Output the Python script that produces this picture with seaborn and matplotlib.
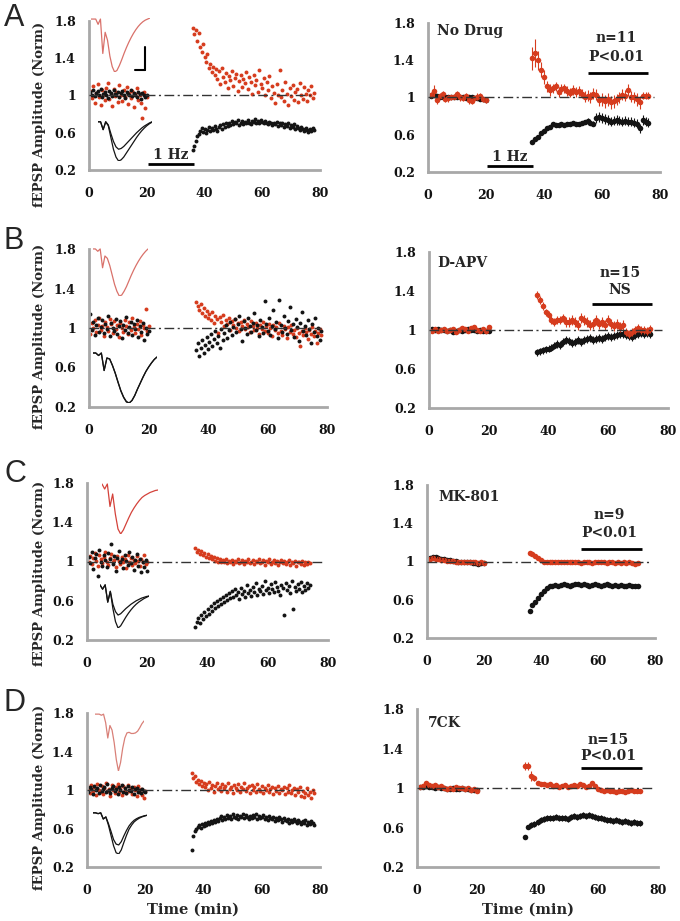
import numpy as np
import matplotlib
matplotlib.use("Agg")
import matplotlib.pyplot as plt
import seaborn as sns

sns.set_style("white")
plt.rcParams['font.family'] = ['DejaVu Serif']
plt.rcParams['font.weight'] = 'bold'

RED = "#d63c1e"
BLK = "#141414"
GRAY = "#a8a8a8"

# ---------------- left panels: individual experiments (sampled every 0.5 min) ----------------
a_red_base = [1.05,0.97,1.10,0.92,1.03,1.12,0.98,0.90,1.06,1.01,0.95,1.08,1.13,0.96,1.02,0.89,1.07,0.99,1.04,0.93,
              1.11,1.00,0.94,1.06,0.98,1.09,0.91,1.03,0.97,1.05,0.88,1.02,1.08,0.95,1.00,0.92,0.76,1.04,0.87,0.98]
a_blk_base = [1.04,1.01,1.06,0.99,1.03,1.05,1.00,1.07,0.98,1.02,1.04,1.01,0.97,1.05,1.03,0.99,1.06,1.02,1.00,1.04,
              0.98,1.03,1.05,1.01,0.97,1.04,1.02,1.00,1.06,0.99,1.03,1.01,0.98,1.04,1.02,0.96,1.03,1.00,0.98,1.01]
a_red_post = [1.73,1.66,1.70,1.58,1.67,1.52,1.47,1.55,1.41,1.36,1.45,1.30,1.34,1.25,1.31,1.22,1.28,1.18,1.26,1.12,
              1.30,1.20,1.15,1.24,1.08,1.21,1.17,1.26,1.10,1.19,1.23,1.05,1.16,1.22,1.09,1.18,1.13,1.25,1.07,1.20,
              1.14,1.02,1.22,1.11,1.17,1.04,1.27,1.12,1.08,1.19,1.00,1.14,1.06,1.21,0.97,1.10,1.03,0.92,1.12,1.00,
              1.27,0.98,1.06,0.94,1.15,1.02,0.90,1.08,0.99,1.11,0.95,1.04,1.07,0.93,1.13,1.01,0.96,1.09,1.02,0.94,
              1.06,1.00,1.10,0.97,1.03]
a_blk_post = [0.42,0.46,0.51,0.56,0.59,0.62,0.65,0.61,0.64,0.60,0.63,0.66,0.62,0.65,0.63,0.67,0.64,0.62,0.66,0.68,
              0.64,0.69,0.66,0.70,0.67,0.71,0.68,0.73,0.69,0.72,0.70,0.74,0.68,0.71,0.73,0.69,0.72,0.70,0.74,0.71,
              0.69,0.73,0.72,0.75,0.70,0.73,0.71,0.74,0.72,0.70,0.73,0.71,0.69,0.72,0.70,0.68,0.71,0.69,0.72,0.67,
              0.70,0.68,0.71,0.66,0.69,0.67,0.70,0.65,0.68,0.66,0.69,0.64,0.67,0.65,0.63,0.66,0.64,0.62,0.65,0.63,
              0.61,0.64,0.62,0.65,0.63]

b_red_base = [0.94,1.05,1.00,1.08,0.96,1.03,1.10,0.98,1.02,0.92,1.06,1.01,0.97,1.09,1.04,0.95,1.07,0.99,1.03,0.91,
              1.05,1.00,0.96,1.08,1.02,0.94,1.06,0.98,1.10,1.01,0.95,1.04,0.99,1.07,0.93,1.03,1.00,1.19,0.97,1.02]
b_blk_base = [1.14,0.98,1.06,0.93,1.03,1.10,0.96,1.01,1.08,0.95,1.04,0.99,1.12,0.92,1.05,1.00,0.97,1.09,0.94,1.02,
              1.07,0.90,1.03,0.98,1.11,0.95,1.01,1.06,0.93,1.04,0.99,1.08,0.91,1.02,0.96,1.05,0.88,1.00,0.94,0.97]
b_red_post = [1.26,1.22,1.18,1.24,1.15,1.20,1.12,1.17,1.10,1.14,1.08,1.16,1.05,1.12,1.09,0.95,1.11,1.06,1.13,1.02,
              1.08,1.04,1.10,0.98,1.07,1.03,1.09,1.00,1.05,0.97,1.06,1.02,1.08,0.99,1.04,1.01,0.96,1.07,1.02,0.98,
              1.05,1.00,0.94,1.03,0.99,1.06,0.97,1.02,0.95,1.04,1.00,0.92,1.03,0.98,1.01,0.95,1.05,0.97,0.93,1.02,
              0.99,0.90,1.01,0.96,1.03,0.94,0.98,0.91,1.00,0.95,0.82,0.97,0.93,1.00,0.96,0.89,0.98,0.94,1.01,0.92,
              0.97,0.85,0.95,0.99,0.93]
b_blk_post = [0.78,0.85,0.72,0.80,0.88,0.75,0.83,0.91,0.79,0.86,0.94,0.82,0.89,0.97,0.85,0.92,0.80,0.99,0.88,0.95,
              1.03,0.90,0.98,1.06,0.93,1.01,1.09,0.96,1.04,1.12,0.99,0.87,1.07,1.00,0.94,1.10,1.02,0.96,1.05,1.15,
              0.98,1.03,0.92,1.08,1.01,0.95,1.27,1.04,0.97,1.10,0.93,1.02,1.18,0.99,1.06,0.90,1.28,1.03,0.96,1.12,
              1.00,0.94,1.07,1.21,0.98,1.04,0.91,1.09,1.01,0.87,1.05,1.16,0.97,1.02,0.93,1.08,0.99,0.85,1.04,0.96,
              1.10,0.92,1.00,0.88,0.97]

c_red_base = [1.00,1.06,0.97,1.04,1.09,1.01,0.95,1.07,1.03,0.98,1.05,1.10,1.00,0.96,1.04,1.08,0.99,1.02,0.94,1.06,
              1.01,0.97,1.05,0.99,1.03,0.93,1.07,1.00,1.04,0.96,1.02,0.98,1.06,1.01,0.95,1.03,0.99,1.07,0.97,1.00]
c_blk_base = [1.05,0.98,1.10,0.92,1.04,1.08,0.85,1.12,1.00,0.95,1.07,1.02,0.94,1.09,1.03,1.18,0.97,1.06,0.90,1.04,
              1.11,0.99,1.03,0.93,1.07,1.01,0.96,1.10,0.98,1.05,0.91,1.02,1.08,0.95,1.03,0.89,1.00,0.94,1.02,0.90]
c_red_post = [1.14,1.10,1.12,1.08,1.11,1.07,1.09,1.05,1.08,1.04,1.06,1.03,1.05,1.01,1.04,1.00,1.03,0.99,1.02,1.00,
              1.03,0.98,1.01,0.99,1.02,0.97,1.01,0.99,1.03,0.98,1.00,1.02,0.97,1.01,0.99,1.03,0.98,1.00,1.02,0.97,
              1.01,0.99,1.03,0.98,1.00,1.02,0.96,1.01,0.99,1.03,0.97,1.00,1.02,0.98,1.01,0.96,1.00,1.02,0.98,1.01,
              0.97,0.99,1.02,0.96,1.00,0.98,1.01,0.95,0.99,1.00,0.97,1.01,0.96,0.99,0.97,1.00,0.98]
c_blk_post = [0.33,0.38,0.42,0.37,0.45,0.41,0.49,0.44,0.52,0.47,0.55,0.50,0.58,0.53,0.60,0.55,0.62,0.57,0.64,0.59,
              0.66,0.61,0.68,0.63,0.70,0.64,0.72,0.66,0.69,0.62,0.73,0.67,0.70,0.64,0.76,0.68,0.71,0.65,0.74,0.69,
              0.78,0.66,0.72,0.70,0.75,0.67,0.80,0.71,0.73,0.68,0.77,0.72,0.69,0.79,0.74,0.70,0.66,0.76,0.73,0.45,
              0.78,0.71,0.75,0.68,0.80,0.52,0.74,0.70,0.77,0.72,0.79,0.69,0.75,0.71,0.78,0.73,0.76]

d_red_base = [1.02,0.97,1.05,0.99,1.03,0.95,1.06,1.00,0.98,1.04,0.96,1.02,1.07,0.99,1.01,0.94,1.05,1.00,0.97,1.03,
              1.06,0.98,1.01,0.95,1.04,1.00,0.97,1.05,0.99,1.02,0.96,1.03,1.00,0.94,1.04,0.98,1.01,0.95,0.92,0.99]
d_blk_base = [0.98,1.03,1.01,0.96,1.04,1.00,1.02,0.97,1.05,0.99,1.01,1.03,0.98,1.06,1.00,0.97,1.02,1.04,0.99,1.01,
              0.96,1.03,1.00,1.05,0.98,1.02,0.97,1.04,1.00,0.99,1.03,0.96,1.01,1.02,0.98,1.00,0.97,1.01,0.99,0.98]
d_red_post = [1.18,1.12,1.15,1.08,1.10,1.06,1.09,1.04,1.07,1.03,1.06,1.00,1.08,1.02,1.05,0.98,1.04,1.07,1.01,1.03,
              0.99,1.06,1.02,1.04,0.98,1.07,1.01,1.03,0.97,1.05,1.02,1.00,1.06,0.98,1.03,1.01,1.07,0.99,1.02,1.04,
              0.97,1.05,1.00,1.03,0.98,1.06,1.01,0.99,1.04,0.97,1.02,1.00,1.05,0.98,1.01,1.03,0.96,1.02,0.99,1.04,
              0.97,1.01,1.00,1.03,0.96,1.02,0.98,1.05,0.97,1.00,1.02,0.95,1.01,0.98,1.03,0.94,0.99,0.93,0.97,1.02,
              0.95,0.98,0.92,1.00,0.97]
d_blk_post = [0.38,0.52,0.57,0.60,0.62,0.64,0.61,0.65,0.63,0.66,0.64,0.67,0.65,0.68,0.66,0.69,0.67,0.70,0.68,0.71,
              0.73,0.69,0.72,0.70,0.74,0.71,0.73,0.70,0.75,0.72,0.71,0.74,0.70,0.73,0.72,0.75,0.71,0.74,0.72,0.70,
              0.73,0.71,0.74,0.72,0.75,0.70,0.73,0.71,0.72,0.74,0.70,0.72,0.69,0.73,0.71,0.70,0.72,0.68,0.71,0.69,
              0.72,0.70,0.67,0.71,0.69,0.68,0.70,0.66,0.69,0.67,0.70,0.68,0.66,0.69,0.67,0.65,0.68,0.66,0.69,0.64,
              0.67,0.65,0.68,0.66,0.64]

# ---------------- right panels: group means +/- SEM (1-min bins) ----------------
ar_red_base = [1.03,1.07,0.97,1.02,1.04,0.98,0.99,1.00,1.01,1.04,1.00,0.99,1.02,0.97,0.96,0.99,1.01,1.02,0.98,0.97]
ar_red_base_err = [0.03,0.06,0.04,0.03,0.03,0.03,0.04,0.03,0.03,0.03,0.04,0.03,0.03,0.04,0.03,0.03,0.04,0.03,0.03,0.03]
ar_blk_base = [1.02,1.03,1.02,1.01,1.01,1.01,1.00,1.00,1.00,1.01,1.00,1.00,0.99,1.00,1.00,0.99,0.99,0.98,0.98,0.97]
ar_blk_base_err = [0.02,0.02,0.02,0.02,0.02,0.02,0.02,0.02,0.02,0.02,0.02,0.02,0.02,0.02,0.02,0.02,0.02,0.02,0.02,0.02]
ar_red_post = [1.42,1.48,1.40,1.30,1.22,1.12,1.08,1.10,1.12,1.06,1.09,1.10,1.07,1.05,1.08,1.06,1.07,1.04,1.01,1.02,
               1.00,1.04,1.03,0.97,0.98,0.96,0.98,0.95,0.96,0.98,1.00,1.03,1.02,1.08,1.01,1.00,0.98,0.95,1.02,1.02,1.02]
ar_red_post_err = [0.12,0.15,0.10,0.08,0.07,0.06,0.06,0.05,0.05,0.05,0.05,0.05,0.05,0.05,0.05,0.05,0.05,0.05,0.06,0.06,
                   0.06,0.06,0.06,0.06,0.07,0.07,0.07,0.07,0.07,0.06,0.06,0.06,0.06,0.06,0.06,0.06,0.07,0.07,0.04,0.04,0.04]
ar_blk_post = [0.52,0.55,0.58,0.62,0.64,0.67,0.68,0.72,0.70,0.71,0.72,0.71,0.72,0.72,0.73,0.72,0.72,0.73,0.74,0.75,
               0.73,0.72,0.78,0.79,0.78,0.77,0.76,0.74,0.75,0.76,0.75,0.74,0.75,0.74,0.74,0.73,0.72,0.67,0.76,0.74,0.73]
ar_blk_post_err = [0.02,0.02,0.02,0.02,0.02,0.02,0.02,0.02,0.02,0.02,0.02,0.02,0.02,0.02,0.02,0.02,0.02,0.02,0.02,0.03,
                   0.03,0.03,0.05,0.05,0.05,0.05,0.05,0.05,0.05,0.05,0.05,0.05,0.05,0.05,0.05,0.05,0.05,0.05,0.05,0.05,0.05]

br_red_base = [0.99,1.01,0.99,1.00,1.01,0.99,1.00,1.01,0.98,1.00,1.02,1.01,0.99,1.02,1.03,1.00,0.99,1.01,0.99,1.03]
br_red_base_err = [0.02,0.02,0.02,0.02,0.02,0.02,0.02,0.02,0.02,0.02,0.02,0.02,0.02,0.02,0.02,0.02,0.02,0.02,0.02,0.02]
br_blk_base = [1.01,1.00,1.01,1.00,1.00,0.99,1.00,0.98,0.99,1.00,0.99,1.00,1.01,1.00,1.00,0.99,1.00,0.99,0.99,0.99]
br_blk_base_err = [0.01,0.01,0.01,0.01,0.01,0.01,0.01,0.01,0.01,0.01,0.01,0.01,0.01,0.01,0.01,0.01,0.01,0.01,0.01,0.01]
br_red_post = [1.36,1.31,1.25,1.18,1.15,1.10,1.08,1.10,1.10,1.12,1.08,1.08,1.10,1.08,1.05,1.12,1.10,1.08,1.05,1.06,
               1.10,1.06,1.08,1.05,1.10,1.06,1.04,1.06,1.03,1.05,0.98,0.96,0.98,1.00,1.02,1.00,1.00,0.99,1.01]
br_red_post_err = [0.04,0.04,0.04,0.04,0.04,0.04,0.04,0.04,0.04,0.04,0.05,0.05,0.05,0.05,0.05,0.05,0.05,0.05,0.05,0.05,
                   0.05,0.05,0.05,0.05,0.05,0.05,0.05,0.05,0.05,0.05,0.04,0.04,0.04,0.04,0.04,0.04,0.04,0.04,0.04]
br_blk_post = [0.77,0.78,0.79,0.80,0.81,0.82,0.84,0.86,0.85,0.88,0.90,0.89,0.87,0.88,0.90,0.88,0.90,0.91,0.92,0.90,
               0.91,0.92,0.91,0.93,0.94,0.93,0.94,0.95,0.96,0.96,0.95,0.94,0.93,0.95,0.96,0.97,0.96,0.97,0.96]
br_blk_post_err = [0.04,0.04,0.04,0.04,0.04,0.04,0.04,0.04,0.04,0.04,0.04,0.04,0.04,0.04,0.04,0.04,0.04,0.04,0.04,0.04,
                   0.04,0.04,0.04,0.04,0.04,0.04,0.04,0.04,0.04,0.04,0.04,0.04,0.04,0.04,0.04,0.04,0.04,0.04,0.04]

cr_red_base = [1.03,1.04,1.03,1.03,1.02,1.02,1.01,1.01,1.01,1.00,1.00,1.00,1.00,0.99,0.99,0.99,0.99,0.98,0.99,0.98]
cr_red_base_err = [0.01,0.01,0.01,0.01,0.01,0.01,0.01,0.01,0.01,0.01,0.01,0.01,0.01,0.01,0.01,0.01,0.01,0.01,0.01,0.01]
cr_blk_base = [1.04,1.05,1.05,1.04,1.03,1.03,1.02,1.02,1.01,1.01,1.00,1.00,1.00,0.99,0.99,0.98,0.98,0.97,0.98,0.98]
cr_blk_base_err = [0.01,0.01,0.01,0.01,0.01,0.01,0.01,0.01,0.01,0.01,0.01,0.01,0.01,0.01,0.01,0.01,0.01,0.01,0.01,0.01]
cr_red_post = [1.09,1.08,1.06,1.04,1.02,1.00,0.99,0.99,1.00,0.99,0.99,1.00,0.99,1.00,0.99,0.99,1.00,0.99,0.98,0.99,
               1.00,0.99,0.98,0.99,0.99,1.00,0.99,0.98,0.99,0.99,0.98,0.99,0.98,0.99,0.98,0.99,0.98,0.97,0.98]
cr_red_post_err = [0.02,0.02,0.02,0.02,0.02,0.01,0.01,0.01,0.01,0.01,0.01,0.01,0.01,0.01,0.01,0.01,0.01,0.01,0.01,0.01,
                   0.01,0.01,0.01,0.01,0.01,0.01,0.01,0.01,0.01,0.01,0.01,0.01,0.01,0.01,0.01,0.01,0.01,0.01,0.02]
cr_blk_post = [0.48,0.55,0.58,0.62,0.66,0.69,0.72,0.74,0.74,0.75,0.74,0.75,0.76,0.75,0.74,0.75,0.76,0.76,0.75,0.76,
               0.75,0.74,0.75,0.76,0.75,0.74,0.75,0.76,0.75,0.74,0.75,0.74,0.75,0.74,0.74,0.75,0.74,0.74,0.74]
cr_blk_post_err = [0.02,0.02,0.02,0.02,0.02,0.02,0.02,0.02,0.02,0.02,0.02,0.02,0.02,0.02,0.02,0.02,0.02,0.02,0.02,0.02,
                   0.02,0.02,0.02,0.02,0.02,0.02,0.02,0.02,0.02,0.02,0.02,0.02,0.02,0.02,0.02,0.02,0.02,0.02,0.02]

dr_red_base = [1.01,1.02,1.05,1.03,1.02,1.03,1.01,1.02,1.00,0.99,1.00,0.99,1.01,1.00,1.00,0.99,1.00,0.98,0.99,0.97]
dr_red_base_err = [0.02,0.02,0.02,0.02,0.02,0.02,0.02,0.02,0.02,0.02,0.02,0.02,0.02,0.02,0.02,0.02,0.02,0.02,0.02,0.02]
dr_blk_base = [1.01,1.01,1.02,1.01,1.01,1.00,1.01,1.00,1.00,0.99,0.99,1.00,0.99,0.99,1.00,0.99,0.99,0.98,0.98,0.98]
dr_blk_base_err = [0.01,0.01,0.01,0.01,0.01,0.01,0.01,0.01,0.01,0.01,0.01,0.01,0.01,0.01,0.01,0.01,0.01,0.01,0.01,0.01]
dr_red_post = [1.22,1.22,1.12,1.10,1.05,1.04,1.04,1.03,1.04,1.02,1.03,1.01,1.02,1.03,1.01,1.02,1.03,1.02,1.04,1.03,
               1.01,1.02,1.05,1.02,0.99,0.98,0.97,0.98,0.97,0.97,0.96,0.97,0.97,0.96,0.97,0.98,0.97,0.97,0.97]
dr_red_post_err = [0.04,0.04,0.05,0.03,0.02,0.02,0.02,0.02,0.02,0.02,0.02,0.02,0.02,0.02,0.02,0.02,0.02,0.02,0.02,0.02,
                   0.02,0.02,0.02,0.02,0.02,0.02,0.02,0.02,0.02,0.02,0.02,0.02,0.02,0.02,0.02,0.02,0.02,0.02,0.02]
dr_blk_post = [0.50,0.61,0.63,0.64,0.66,0.68,0.69,0.70,0.70,0.70,0.71,0.70,0.70,0.70,0.69,0.71,0.72,0.71,0.72,0.73,
               0.72,0.73,0.72,0.71,0.70,0.70,0.69,0.68,0.68,0.67,0.68,0.67,0.66,0.67,0.66,0.65,0.66,0.65,0.65]
dr_blk_post_err = [0.02,0.02,0.03,0.03,0.03,0.03,0.03,0.03,0.03,0.03,0.03,0.03,0.03,0.03,0.03,0.03,0.03,0.03,0.03,0.03,
                   0.03,0.03,0.03,0.03,0.03,0.03,0.03,0.03,0.03,0.03,0.03,0.03,0.03,0.03,0.03,0.03,0.03,0.03,0.03]

# ---------------- example fEPSP traces (arbitrary units) ----------------
a_trace_red = [0.0,0.0,0.0,-0.1,0.0,-0.65,-0.25,-0.4,-0.7,-0.9,-1.0,-0.97,-0.88,-0.77,-0.65,-0.54,-0.44,-0.35,
               -0.27,-0.2,-0.14,-0.09,-0.05,-0.02,0.0,0.02]
a_trace_pre = [0.0,0.0,-0.2,0.0,-0.1,-0.4,-0.7,-0.9,-1.0,-0.97,-0.9,-0.8,-0.7,-0.6,-0.5,-0.4,-0.31,-0.23,-0.16,-0.1,-0.05,-0.01]
a_trace_post = [0.0,0.0,-0.2,0.0,-0.08,-0.3,-0.5,-0.64,-0.7,-0.68,-0.63,-0.56,-0.49,-0.42,-0.35,-0.28,-0.22,-0.16,-0.11,-0.07,-0.03,0.0]
b_trace_red = [0.0,0.0,-0.05,0.0,-0.4,-0.15,-0.2,-0.35,-0.55,-0.75,-0.9,-1.0,-0.98,-0.9,-0.8,-0.68,-0.56,-0.45,
               -0.35,-0.26,-0.18,-0.11,-0.05,0.0]
b_trace_pre = [0.0,0.0,-0.05,0.0,-0.35,-0.1,-0.12,-0.25,-0.4,-0.58,-0.75,-0.88,-0.97,-1.0,-0.95,-0.85,-0.72,-0.6,
               -0.48,-0.37,-0.28,-0.2,-0.13,-0.08]
b_trace_post = [0.0,0.0,-0.05,0.0,-0.35,-0.1,-0.12,-0.25,-0.41,-0.59,-0.76,-0.89,-0.98,-1.0,-0.95,-0.85,-0.72,-0.6,
                -0.48,-0.37,-0.28,-0.2,-0.13,-0.08]
c_trace_red = [0.0,-0.1,0.0,-0.45,-0.2,-0.6,-0.9,-1.0,-0.92,-0.8,-0.68,-0.57,-0.48,-0.4,-0.33,-0.27,-0.23,-0.2,
               -0.17,-0.15,-0.13,-0.12]
c_trace_pre = [0.0,-0.1,0.0,-0.4,-0.15,-0.55,-0.85,-1.0,-0.95,-0.85,-0.75,-0.66,-0.58,-0.51,-0.45,-0.4,-0.36,-0.32,-0.29,-0.26]
c_trace_post = [0.0,-0.1,0.0,-0.4,-0.15,-0.45,-0.62,-0.7,-0.67,-0.61,-0.55,-0.5,-0.45,-0.41,-0.37,-0.34,-0.31,-0.29,-0.27,-0.26]
d_trace_red = [0.0,0.0,0.0,-0.02,0.0,-0.15,-0.42,-0.2,-0.28,-0.5,-0.8,-1.0,-0.85,-0.6,-0.42,-0.33,-0.32,-0.34,
               -0.34,-0.33,-0.3,-0.24,-0.17,-0.12]
d_trace_pre = [0.0,0.0,-0.02,0.0,-0.15,-0.1,-0.3,-0.55,-0.8,-0.97,-1.0,-0.9,-0.72,-0.55,-0.4,-0.3,-0.22,-0.17,-0.13,-0.1,-0.08,-0.06]
d_trace_post = [0.0,0.0,-0.02,0.0,-0.15,-0.1,-0.26,-0.45,-0.65,-0.76,-0.78,-0.7,-0.56,-0.43,-0.32,-0.24,-0.18,-0.14,-0.11,-0.09,-0.07,-0.06]

conditions = ["No Drug", "D-APV", "MK-801", "7CK"]
group_n = ["n=11", "n=15", "n=9", "n=15"]
group_p = ["P<0.01", "NS", "P<0.01", "P<0.01"]
letters = ["A", "B", "C", "D"]

# ---------------- layout (figure pixels) ----------------
W, H = 680, 921
fig = plt.figure(figsize=(W / 100, H / 100), dpi=100)


def rect(l, r, t, b):
    return [l / W, 1 - b / H, (r - l) / W, (b - t) / H]


left_boxes = [(89, 320, 21, 170), (89, 327, 249, 407), (87, 328, 483, 640), (87, 320, 713, 867)]
right_boxes = [(428, 660, 23, 172), (429, 668, 252, 408), (427, 655, 485, 638), (417, 658, 709, 867)]
red_inset = [(91, 150, 18, 72), (93, 148, 248, 296), (102, 158, 483, 534), (95, 144, 713, 771)]
blk_inset = [(98, 152, 121, 161), (93, 157, 352, 403), (100, 149, 584, 628), (93, 147, 812, 854)]
ylabel_pos = [(40, 114), (40, 336), (40, 573), (40, 797)]
letter_y = [18, 241, 474, 703]
title_pos = [(0.04, 0.945), (0.033, 0.93), (0.05, 0.92), (0.046, 0.91)]
# stats annotation: x centre, y of n line, y of P line, bar y, bar start, bar end
stats_pos = [(65, 1.64, 1.435, 1.26, 55, 76), (64, 1.58, 1.41, 1.27, 54.5, 74.6),
             (64, 1.49, 1.30, 1.13, 54, 75.4), (63.4, 1.49, 1.32, 1.20, 54.4, 74.7)]

left_data = [(a_red_base, a_blk_base, a_red_post, a_blk_post),
             (b_red_base, b_blk_base, b_red_post, b_blk_post),
             (c_red_base, c_blk_base, c_red_post, c_blk_post),
             (d_red_base, d_blk_base, d_red_post, d_blk_post)]
right_data = [(ar_red_base, ar_red_base_err, ar_blk_base, ar_blk_base_err,
               ar_red_post, ar_red_post_err, ar_blk_post, ar_blk_post_err),
              (br_red_base, br_red_base_err, br_blk_base, br_blk_base_err,
               br_red_post, br_red_post_err, br_blk_post, br_blk_post_err),
              (cr_red_base, cr_red_base_err, cr_blk_base, cr_blk_base_err,
               cr_red_post, cr_red_post_err, cr_blk_post, cr_blk_post_err),
              (dr_red_base, dr_red_base_err, dr_blk_base, dr_blk_base_err,
               dr_red_post, dr_red_post_err, dr_blk_post, dr_blk_post_err)]
traces = [(a_trace_red, a_trace_pre, a_trace_post, "#d9716a"),
          (b_trace_red, b_trace_pre, b_trace_post, "#d9716a"),
          (c_trace_red, c_trace_pre, c_trace_post, "#d4423a"),
          (d_trace_red, d_trace_pre, d_trace_post, "#d98078")]


def style_axis(ax):
    ax.set_xlim(0, 80)
    ax.set_ylim(0.2, 1.8)
    ax.set_xticks([0, 20, 40, 60, 80])
    ax.set_xticklabels(["0", "20", "40", "60", "80"])
    ax.set_yticks([0.2, 0.6, 1.0, 1.4, 1.8])
    ax.set_yticklabels(["0.2", "0.6", "1", "1.4", "1.8"])
    for s in ["top", "right"]:
        ax.spines[s].set_visible(False)
    for s in ["left", "bottom"]:
        ax.spines[s].set_color(GRAY)
        ax.spines[s].set_linewidth(2)
    ax.tick_params(colors=GRAY, labelcolor="#111111", length=3, width=1.5, labelsize=9)
    ax.tick_params(axis="x", pad=9)
    ax.tick_params(axis="y", pad=6.5)
    ax.set_xlabel("")
    ax.set_ylabel("")
    ax.axhline(1.0, xmin=0, xmax=0.975, color="#333333", lw=1,
               linestyle=(0, (7, 2.5, 1.5, 2.5)), zorder=5)


def draw_trace(box, series, colors):
    ins = fig.add_axes(rect(*box))
    for s, c in zip(series, colors):
        sns.lineplot(x=np.arange(len(s)), y=s, ax=ins, color=c, lw=0.9)
    ins.set_ylim(-1.0, 0.02)
    ins.margins(x=0)
    ins.axis("off")


axes_left, axes_right = [], []
for i in range(4):
    # ---- left: single experiment ----
    ax = fig.add_axes(rect(*left_boxes[i]))
    axes_left.append(ax)
    red_b, blk_b, red_p, blk_p = left_data[i]
    tb = 0.5 + 0.5 * np.arange(len(red_b))
    tp = 36 + 0.5 * np.arange(len(red_p))
    sns.scatterplot(x=tb, y=red_b, ax=ax, color=RED, s=8, linewidth=0)
    sns.scatterplot(x=tb, y=blk_b, ax=ax, color=BLK, s=8, linewidth=0)
    sns.scatterplot(x=tp, y=red_p, ax=ax, color=RED, s=8, linewidth=0)
    sns.scatterplot(x=tp, y=blk_p, ax=ax, color=BLK, s=8, linewidth=0)
    style_axis(ax)

    tr_red, tr_pre, tr_post, tr_col = traces[i]
    draw_trace(red_inset[i], [tr_red], [tr_col])
    draw_trace(blk_inset[i], [tr_pre, tr_post], [BLK, BLK])

    fig.text(ylabel_pos[i][0] / W, 1 - ylabel_pos[i][1] / H, "fEPSP Amplitude (Norm)",
             rotation=90, ha="center", va="center", fontsize=9.5)
    fig.text(4 / W, 1 - letter_y[i] / H, letters[i], family="Liberation Sans",
             fontweight="normal", fontsize=22, ha="left", va="center")

    # ---- right: group average ----
    ax = fig.add_axes(rect(*right_boxes[i]))
    axes_right.append(ax)
    rb, rbe, kb, kbe, rp, rpe, kp, kpe = right_data[i]
    xb = 1 + np.arange(len(rb))
    xp = 36 + np.arange(len(rp))
    for x, y, e, c in [(xb, kb, kbe, BLK), (xb, rb, rbe, RED), (xp, kp, kpe, BLK), (xp, rp, rpe, RED)]:
        ax.errorbar(x, y, yerr=e, fmt="none", ecolor=c, elinewidth=0.8, capsize=0)
        sns.scatterplot(x=x, y=y, ax=ax, color=c, s=16, linewidth=0)
    style_axis(ax)

    ax.text(title_pos[i][0], title_pos[i][1], conditions[i], transform=ax.transAxes,
            ha="left", va="center", fontsize=10)
    xc, yn, yp, yb, x0, x1 = stats_pos[i]
    ax.text(xc, yn, group_n[i], ha="center", va="center", fontsize=10)
    ax.text(xc, yp, group_p[i], ha="center", va="center", fontsize=10)
    ax.hlines(yb, x0, x1, color="black", lw=2)

# 1 Hz conditioning bar in panel A
for ax in (axes_left[0], axes_right[0]):
    ax.hlines(0.265, 20.3, 36.2, color="black", lw=2)
    ax.text(28.2, 0.365, "1 Hz", ha="center", va="center", fontsize=10)

# scale bar in panel A
axes_left[0].plot([19.4, 19.4], [1.52, 1.27], color="black", lw=1.5)
axes_left[0].plot([15.9, 19.4], [1.27, 1.27], color="black", lw=1.5)

fig.text(193 / W, 1 - 910 / H, "Time (min)", ha="center", va="center", fontsize=10.5)
fig.text(528 / W, 1 - 910 / H, "Time (min)", ha="center", va="center", fontsize=10.5)

fig.savefig("out.png", dpi=100, facecolor="white")
